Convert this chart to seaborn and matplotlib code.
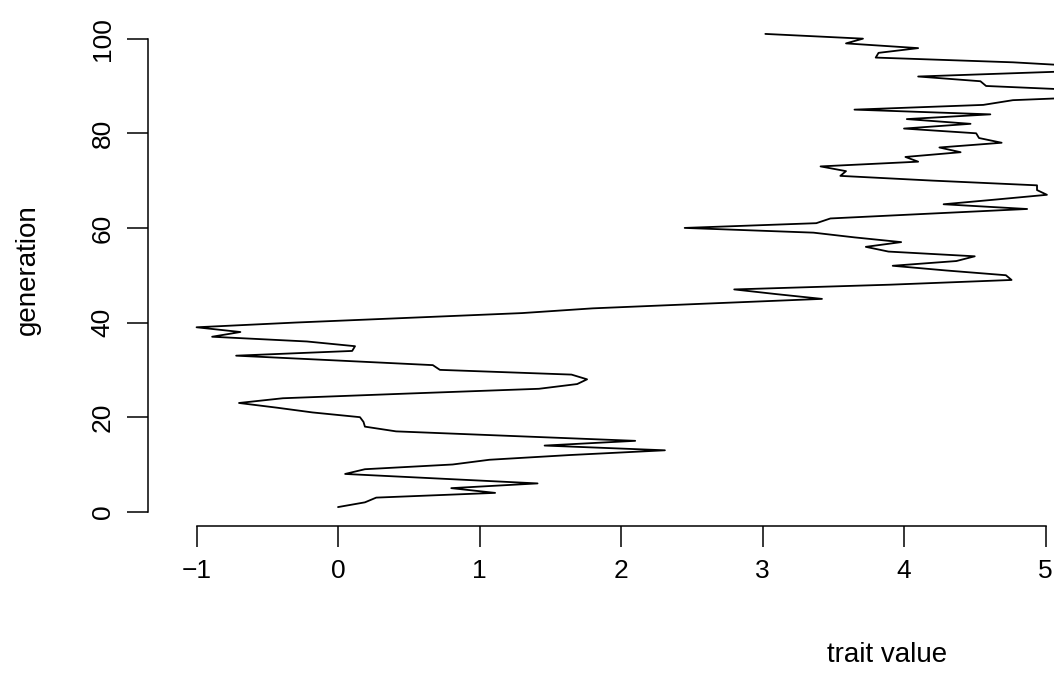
import numpy as np
import pandas as pd
import seaborn as sns
import matplotlib
matplotlib.use("Agg")
import matplotlib.pyplot as plt

# trait value per generation
trait = [0.00, 0.19, 0.27, 1.11, 0.80, 1.41, 0.73, 0.05, 0.19, 0.81,
         1.07, 1.64, 2.31, 1.46, 2.10, 1.25, 0.41, 0.19, 0.18, 0.155,
         -0.18, -0.43, -0.70, -0.39, 0.50, 1.42, 1.69, 1.76, 1.65, 0.72,
         0.67, -0.02, -0.72, 0.10, 0.12, -0.22, -0.89, -0.69, -1.00, -0.30,
         0.50, 1.30, 1.80, 2.60, 3.42, 3.10, 2.80, 3.90, 4.76, 4.72,
         4.30, 3.92, 4.37, 4.50, 3.89, 3.73, 3.98, 3.65, 3.36, 2.45,
         3.38, 3.48, 4.17, 4.87, 4.28, 4.65, 5.01, 4.94, 4.94, 4.20,
         3.55, 3.59, 3.41, 4.10, 4.01, 4.40, 4.25, 4.69, 4.53, 4.51,
         4.00, 4.47, 4.02, 4.61, 3.65, 4.56, 4.77, 5.60, 5.35, 4.58,
         4.54, 4.10, 5.07, 5.36, 4.77, 3.80, 3.82, 4.10, 3.59, 3.71,
         3.02]
generation = np.arange(1, len(trait) + 1)

x_ticks = [-1, 0, 1, 2, 3, 4, 5]
y_ticks = [0, 20, 40, 60, 80, 100]

df = pd.DataFrame({"trait": trait, "generation": generation})

sns.set_style("ticks")
plt.rcParams['font.family'] = ['Liberation Sans', 'DejaVu Sans']
plt.rcParams['text.color'] = 'black'
plt.rcParams['axes.labelcolor'] = 'black'
plt.rcParams['xtick.color'] = 'black'
plt.rcParams['ytick.color'] = 'black'

fig = plt.figure(figsize=(10.54, 6.75), dpi=100)
W, H = 1054, 675
ax = fig.add_axes([148 / W, (H - 526) / H, (W - 148) / W, (526 - 15) / H])

sns.lineplot(data=df, x="trait", y="generation", sort=False, estimator=None,
             color="black", linewidth=1.3, ax=ax)

ax.set_xlim(-1.343, 5.06)
ax.set_ylim(-3, 105)

for s in ["top", "right"]:
    ax.spines[s].set_visible(False)
ax.spines["bottom"].set_bounds(-1, 5)
ax.spines["left"].set_bounds(0, 100)
for s in ["bottom", "left"]:
    ax.spines[s].set_color("black")
    ax.spines[s].set_linewidth(1.1)

ax.set_xticks(x_ticks)
ax.set_xticklabels(["\u22121" if t < 0 else str(t) for t in x_ticks])
ax.set_yticks(y_ticks)
ax.set_yticklabels([str(t) for t in y_ticks], rotation=90, va="center")
ax.tick_params(axis="both", direction="out", length=15, width=1.1,
               color="black", labelcolor="black", labelsize=19, pad=9,
               bottom=True, left=True)

ax.set_xlabel("trait value", fontsize=20, labelpad=0)
ax.set_ylabel("generation", fontsize=20)
ax.xaxis.label.set_va("center")
ax.yaxis.label.set_va("center")
ax.xaxis.set_label_coords((887 - 148) / (W - 148), -(655 - 526) / (526 - 15))
ax.yaxis.set_label_coords(-(148 - 28) / (W - 148), (526 - 270) / (526 - 15))

fig.savefig("out.png", dpi=100)
